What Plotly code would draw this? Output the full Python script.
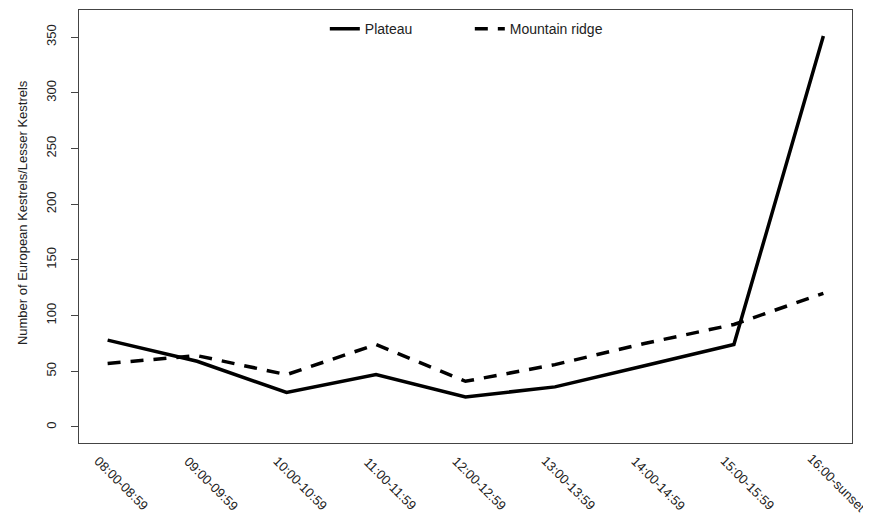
import plotly.graph_objects as go

categories = ["08:00-08:59", "09:00-09:59", "10:00-10:59", "11:00-11:59", "12:00-12:59",
              "13:00-13:59", "14:00-14:59", "15:00-15:59", "16:00-sunset"]
plateau = [78, 59, 31, 47, 27, 36, 55, 74, 351]
mountain_ridge = [57, 64, 47, 74, 41, 56, 75, 92, 120]
y_ticks = [0, 50, 100, 150, 200, 250, 300, 350]
y_title = "Number of European Kestrels/Lesser Kestrels"

FONT = "Liberation Sans, Arial, sans-serif"
TXT = "#222222"

fig = go.Figure()
fig.add_trace(go.Scatter(x=categories, y=plateau, mode="lines", name="Plateau",
                         line=dict(color="black", width=3.5)))
fig.add_trace(go.Scatter(x=categories, y=mountain_ridge, mode="lines", name="Mountain ridge",
                         line=dict(color="black", width=3.5, dash="13px,10px")))

for c in categories:
    fig.add_annotation(x=c, xref="x", y=-0.0924, yref="paper", text=c, showarrow=False,
                       textangle=45, xanchor="center", yanchor="middle", xshift=14,
                       font=dict(family=FONT, size=13, color=TXT))

fig.add_annotation(x=-0.0737, xref="paper", y=0.531, yref="paper", text=y_title,
                   showarrow=False, textangle=-90, xanchor="center", yanchor="middle",
                   font=dict(family=FONT, size=13, color=TXT))

# page body has an 8px margin, so the figure is sized/offset to fit the 871x519 window
fig.update_layout(
    width=863, height=511,
    margin=dict(l=71, r=19, t=2, b=76),
    paper_bgcolor="white", plot_bgcolor="white",
    font=dict(family=FONT, size=13, color=TXT),
    showlegend=True,
    legend=dict(orientation="h", x=0.318, xanchor="left", y=0.956, yanchor="middle",
                bgcolor="rgba(0,0,0,0)", borderwidth=0, entrywidth=100,
                font=dict(family=FONT, size=14, color=TXT)),
    xaxis=dict(range=[-0.32, 8.32], showticklabels=False, ticks="", showgrid=False,
               zeroline=False, showline=True, mirror=True, linecolor="#444444", linewidth=1),
    yaxis=dict(range=[-14.4, 374.4], tickvals=y_ticks, ticks="outside", ticklen=7,
               tickcolor="#444444", tickangle=-90, ticklabelstandoff=10, showgrid=False,
               zeroline=False, showline=True, mirror=True, linecolor="#444444", linewidth=1,
               tickfont=dict(family=FONT, size=13, color=TXT)),
)

fig.write_html("out.html")
